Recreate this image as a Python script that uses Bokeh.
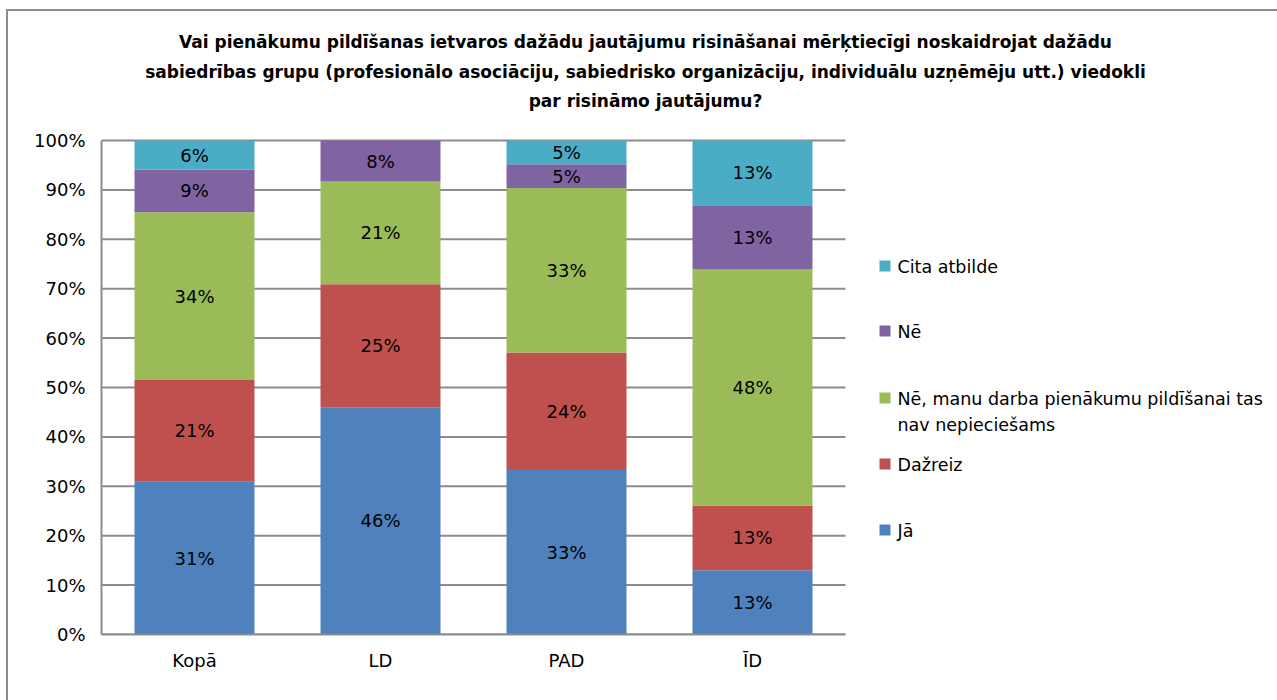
from bokeh.plotting import figure
from bokeh.models import (ColumnDataSource, Range1d, LabelSet, Label,
                          NumeralTickFormatter, FixedTicker)
from bokeh.core.properties import value
from bokeh.embed import file_html
from bokeh.resources import INLINE

# ---------------- data ----------------
categories = ["Kopā", "LD", "PAD", "ĪD"]
series = ["Jā", "Dažreiz", "Nē, manu darba pienākumu pildīšanai tas nav nepieciešams", "Nē", "Cita atbilde"]
ja = [30.9, 46.0, 33.3, 13.0]
dazreiz = [20.6, 24.9, 23.8, 13.1]
ne_manu = [34.0, 20.8, 33.3, 47.8]
ne = [8.6, 8.3, 4.8, 13.0]
cita = [5.9, 0.0, 4.8, 13.1]
colors = ["#4F81BD", "#C0504D", "#9BBB59", "#8064A2", "#4BACC6"]
y_ticks = [0, 10, 20, 30, 40, 50, 60, 70, 80, 90, 100]
title_lines = [
    "Vai pienākumu pildīšanas ietvaros dažādu jautājumu risināšanai mērķtiecīgi noskaidrojat dažādu",
    "sabiedrības grupu (profesionālo asociāciju, sabiedrisko organizāciju, individuālu uzņēmēju utt.) viedokli",
    "par risināmo jautājumu?",
]
values = [ja, dazreiz, ne_manu, ne, cita]

# ---------------- layout (page pixels) ----------------
PAGE_X0, PAGE_Y0 = 8, 11          # where the chart box starts on the page
W, H = 1277 - PAGE_X0, 700 - PAGE_Y0
AXIS_L, AXIS_R, Y100, Y0 = 101, 845, 140, 634
N = len(categories)
CAT_PX = (AXIS_R - AXIS_L) / N
UNIT_PX = Y0 - Y100

def px_x(px):   # page x -> data x (categories centred at 1..N)
    return 0.5 + (px - AXIS_L) / CAT_PX
def px_y(py):   # page y -> data y (fraction)
    return (Y0 - py) / UNIT_PX

FONT = "DejaVu Sans"
AX = "#8c8c8c"

p = figure(x_range=Range1d(px_x(AXIS_L), px_x(1277)),
           y_range=Range1d(0, px_y(PAGE_Y0)),
           width=W, height=H, output_backend="svg", toolbar_location=None,
           min_border_left=AXIS_L - PAGE_X0, min_border_right=0,
           min_border_top=0, min_border_bottom=700 - Y0,
           margin=(PAGE_Y0, 0, 0, PAGE_X0),
           styles={"outline": f"2px solid {AX}"})
p.outline_line_color = None
p.background_fill_color = "white"
p.border_fill_color = "white"
p.xgrid.grid_line_color = None
p.ygrid.grid_line_color = None

# gridlines (drawn over the category span only)
gy = [t / 100 for t in y_ticks]
p.segment(x0=[0.5] * len(gy), x1=[N + 0.5] * len(gy), y0=gy, y1=gy,
          line_color=AX, line_width=2)

# stacked bars
xs = [i + 1 for i in range(N)]
bottom = [0.0] * N
lab_x, lab_y, lab_t = [], [], []
for name, vals, col in zip(series, values, colors):
    top = [b + v / 100.0 for b, v in zip(bottom, vals)]
    src = ColumnDataSource(dict(x=xs, bottom=bottom, top=top))
    p.vbar(x="x", bottom="bottom", top="top", width=0.645, source=src,
           fill_color=col, line_color=None)
    for c, b, t, v in zip(xs, bottom, top, vals):
        if v > 0:
            lab_x.append(c)
            lab_y.append((b + t) / 2)
            lab_t.append(f"{round(v):.0f}%")
    bottom = top

lsrc = ColumnDataSource(dict(x=lab_x, y=lab_y, t=lab_t))
p.add_layout(LabelSet(x="x", y="y", text="t", source=lsrc, text_align="center",
                      text_baseline="middle", text_font=value(FONT),
                      text_font_size="18px", text_color="#000000"))

# axes
p.yaxis.ticker = FixedTicker(ticks=gy)
p.yaxis.formatter = NumeralTickFormatter(format="0%")
p.yaxis.bounds = (0, 1)
p.xaxis.ticker = FixedTicker(ticks=xs)
p.xaxis.major_label_overrides = {x: c for x, c in zip(xs, categories)}
p.xaxis.bounds = (0.5, N + 0.5)
for ax in (p.xaxis, p.yaxis):
    ax.axis_line_color = AX
    ax.axis_line_width = 2
    ax.major_label_text_font = FONT
    ax.major_label_text_font_size = "18px"
    ax.major_label_text_color = "#000000"
    ax.minor_tick_line_color = None
    ax.major_tick_line_color = None
p.yaxis.major_label_standoff = 10
p.xaxis.major_label_standoff = 9

# title
for line, py in zip(title_lines, [41, 71, 100]):
    p.add_layout(Label(x=px_x(645), y=px_y(py), text=line, text_align="center",
                       text_baseline="middle", text_font=FONT,
                       text_font_style="bold", text_font_size="17px",
                       text_color="#000000"))

# legend (manual, top entry = last series)
leg_rows = {0: [530], 1: [464], 2: [398, 424], 3: [331], 4: [266]}
leg_text = {0: ["Jā"], 1: ["Dažreiz"],
            2: ["Nē, manu darba pienākumu pildīšanai tas", "nav nepieciešams"],
            3: ["Nē"], 4: ["Cita atbilde"]}
for i, col in enumerate(colors):
    ys = leg_rows[i]
    p.quad(left=[px_x(879)], right=[px_x(890)], top=[px_y(ys[0] - 6)],
           bottom=[px_y(ys[0] + 5)], fill_color=col, line_color=None)
    for txt, py in zip(leg_text[i], ys):
        p.add_layout(Label(x=px_x(897), y=px_y(py), text=txt, text_align="left",
                           text_baseline="middle", text_font=FONT,
                           text_font_size="17.5px", text_color="#000000"))

open("out.html", "w").write(file_html(p, INLINE))
